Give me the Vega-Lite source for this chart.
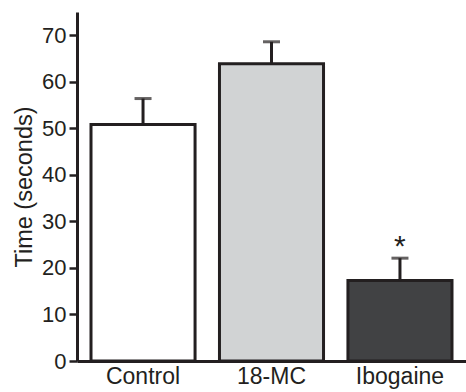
{
  "$schema": "https://vega.github.io/schema/vega-lite/v6.json",
  "width": 389,
  "height": 349,
  "autosize": {"type": "none"},
  "padding": {"left": 77, "top": 12, "right": 0, "bottom": 31},
  "config": {
    "view": {"stroke": null},
    "font": "Liberation Sans"
  },
  "data": {
    "values": [
      {"group": "Control", "mean": 50.8, "err": 56.4, "sig": ""},
      {"group": "18-MC", "mean": 63.9, "err": 68.6, "sig": ""},
      {"group": "Ibogaine", "mean": 17.3, "err": 22.1, "sig": "*"}
    ]
  },
  "encoding": {
    "x": {
      "field": "group",
      "type": "nominal",
      "sort": null,
      "scale": {"paddingInner": 0.19, "paddingOuter": 0.109},
      "axis": {
        "title": null,
        "labelAngle": 0,
        "labelFontSize": 23,
        "labelColor": "#231f20",
        "labelPadding": 7,
        "domainColor": "#231f20",
        "domainWidth": 3,
        "tickColor": "#231f20",
        "tickWidth": 2,
        "tickSize": -3
      }
    }
  },
  "layer": [
    {
      "mark": {"type": "bar", "stroke": "#231f20", "strokeWidth": 3},
      "encoding": {
        "y": {
          "field": "mean",
          "type": "quantitative",
          "scale": {"domain": [0, 75], "nice": false},
          "axis": {
            "title": "Time (seconds)",
            "titleFontSize": 23.5,
            "titleFontWeight": "normal",
            "titleColor": "#231f20",
            "titlePadding": 5,
            "values": [0, 5, 10, 15, 20, 25, 30, 35, 40, 45, 50, 55, 60, 65, 70],
            "labelExpr": "datum.value % 10 === 0 ? datum.label : ''",
            "labelFontSize": 22,
            "labelColor": "#231f20",
            "labelPadding": 3,
            "grid": false,
            "domainColor": "#231f20",
            "domainWidth": 3,
            "tickColor": "#231f20",
            "tickWidth": 2.5,
            "tickSize": {"condition": {"test": "datum.value % 10 === 0", "value": 8}, "value": 4}
          }
        },
        "fill": {
          "field": "group",
          "type": "nominal",
          "sort": null,
          "scale": {"range": ["#ffffff", "#d1d3d4", "#414244"]},
          "legend": null
        }
      }
    },
    {
      "mark": {"type": "rule", "stroke": "#231f20", "strokeWidth": 3},
      "encoding": {
        "y": {"field": "mean", "type": "quantitative"},
        "y2": {"field": "err"}
      }
    },
    {
      "mark": {"type": "tick", "color": "#231f20", "thickness": 3, "size": 17, "orient": "horizontal"},
      "encoding": {
        "y": {"field": "err", "type": "quantitative"}
      }
    },
    {
      "mark": {"type": "text", "fontSize": 30, "baseline": "alphabetic", "dy": -2, "color": "#231f20"},
      "encoding": {
        "y": {"field": "err", "type": "quantitative"},
        "text": {"field": "sig"}
      }
    }
  ]
}
